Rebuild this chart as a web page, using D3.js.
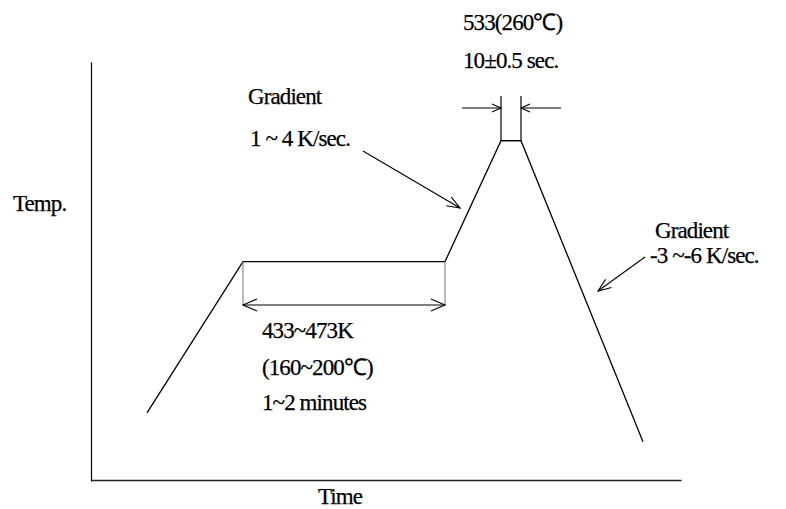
<!DOCTYPE html>
<html>
<head>
<meta charset="utf-8">
<script src="https://cdn.jsdelivr.net/npm/d3@7"></script>
<style>
  html, body { margin: 0; padding: 0; background: #fff; }
  svg text { font-family: "Liberation Serif", "Times New Roman", serif; font-size: 23px; fill: #000; stroke: #000; stroke-width: 0.25px; letter-spacing: -0.9px; }
</style>
</head>
<body>
<svg id="chart" width="786" height="509"></svg>
<script>
// Reflow soldering profile (schematic)
const profileTime = [28, 76, 177, 205, 215, 276];   // seconds
const profileTemp = [353, 453, 453, 533, 533, 334]; // kelvin

const preheatStart = 76, preheatEnd = 177, preheatTemp = 453;
const peakStart = 205, peakEnd = 215, peakTemp = 533;

const axisLabels = ["Temp.", "Time"];
const peakTexts = ["533(260℃)", "10±0.5 sec."];
const riseTexts = ["Gradient", "1 ~ 4 K/sec."];
const fallTexts = ["Gradient", "-3 ~-6 K/sec."];
const preheatTexts = ["433~473K", "(160~200℃)", "1~2 minutes"];

const svg = d3.select("#chart");
const x = d3.scaleLinear().domain([0, 295]).range([91, 681]);
const y = d3.scaleLinear().domain([308, 585]).range([481, 62]);

// axes (no ticks)
svg.append("g").attr("transform", `translate(${x(0)},0)`)
  .call(d3.axisLeft(y).ticks(0).tickSizeOuter(0))
  .call(g => g.select(".domain").attr("stroke", "#000").attr("stroke-width", 1.2));
svg.append("g").attr("transform", `translate(0,${y(308) - 1})`)
  .call(d3.axisBottom(x).ticks(0).tickSizeOuter(0))
  .call(g => g.select(".domain").attr("stroke", "#222").attr("stroke-width", 1.6));

// profile line
const pts = profileTime.map((t, i) => [t, profileTemp[i]]);
svg.append("path")
  .datum(pts)
  .attr("fill", "none").attr("stroke", "#000").attr("stroke-width", 1.3)
  .attr("d", d3.line().x(d => x(d[0])).y(d => y(d[1])));

function line(x1, y1, x2, y2, w = 1.1, c = "#000") {
  svg.append("line").attr("x1", x1).attr("y1", y1).attr("x2", x2).attr("y2", y2)
    .attr("stroke", c).attr("stroke-width", w);
}
function arrowHead(xt, yt, xf, yf, len, half, w = 1.1) {
  const ang = Math.atan2(yt - yf, xt - xf);
  const bx = xt - len * Math.cos(ang), by = yt - len * Math.sin(ang);
  const px = -Math.sin(ang) * half, py = Math.cos(ang) * half;
  svg.append("path")
    .attr("d", `M${bx + px},${by + py}L${xt},${yt}L${bx - px},${by - py}`)
    .attr("fill", "none").attr("stroke", "#000").attr("stroke-width", w);
}
function arrow(x1, y1, x2, y2, len, half, w = 1.1) {
  line(x1, y1, x2, y2, w);
  arrowHead(x2, y2, x1, y1, len, half, w);
}

// preheat span markers
const phY = y(preheatTemp), phArrowY = 305;
line(x(preheatStart), phY, x(preheatStart), phArrowY, 1, "#777");
line(x(preheatEnd), phY, x(preheatEnd), phArrowY, 1, "#777");
line(x(preheatStart), phArrowY, x(preheatEnd), phArrowY, 1.1);
arrowHead(x(preheatStart), phArrowY, x(preheatEnd), phArrowY, 14, 6);
arrowHead(x(preheatEnd), phArrowY, x(preheatStart), phArrowY, 14, 6);

// peak width markers
const pkTop = 96, pkArrowY = 108;
line(x(peakStart), y(peakTemp), x(peakStart), pkTop, 1.2);
line(x(peakEnd), y(peakTemp), x(peakEnd), pkTop, 1.2);
line(x(peakStart), y(peakTemp), x(peakEnd), y(peakTemp), 1.2);
arrow(x(peakStart) - 39, pkArrowY, x(peakStart), pkArrowY, 9, 4);
arrow(x(peakEnd) + 40, pkArrowY, x(peakEnd), pkArrowY, 9, 4);

// gradient pointer arrows
arrow(363, 151, 460, 208, 13, 5);
arrow(645, 257, 598, 291, 13, 5);

// texts
function label(str, tx, ty) {
  svg.append("text").attr("x", tx).attr("y", ty).text(str);
}
label(axisLabels[0], 13, 211);
label(axisLabels[1], 318, 504);
label(peakTexts[0], 463, 30);
label(peakTexts[1], 463, 68);
label(riseTexts[0], 248, 104);
label(riseTexts[1], 250, 146);
label(fallTexts[0], 655, 238);
label(fallTexts[1], 650, 263);
label(preheatTexts[0], 262, 338);
label(preheatTexts[1], 262, 375);
label(preheatTexts[2], 262, 410);
</script>
</body>
</html>
